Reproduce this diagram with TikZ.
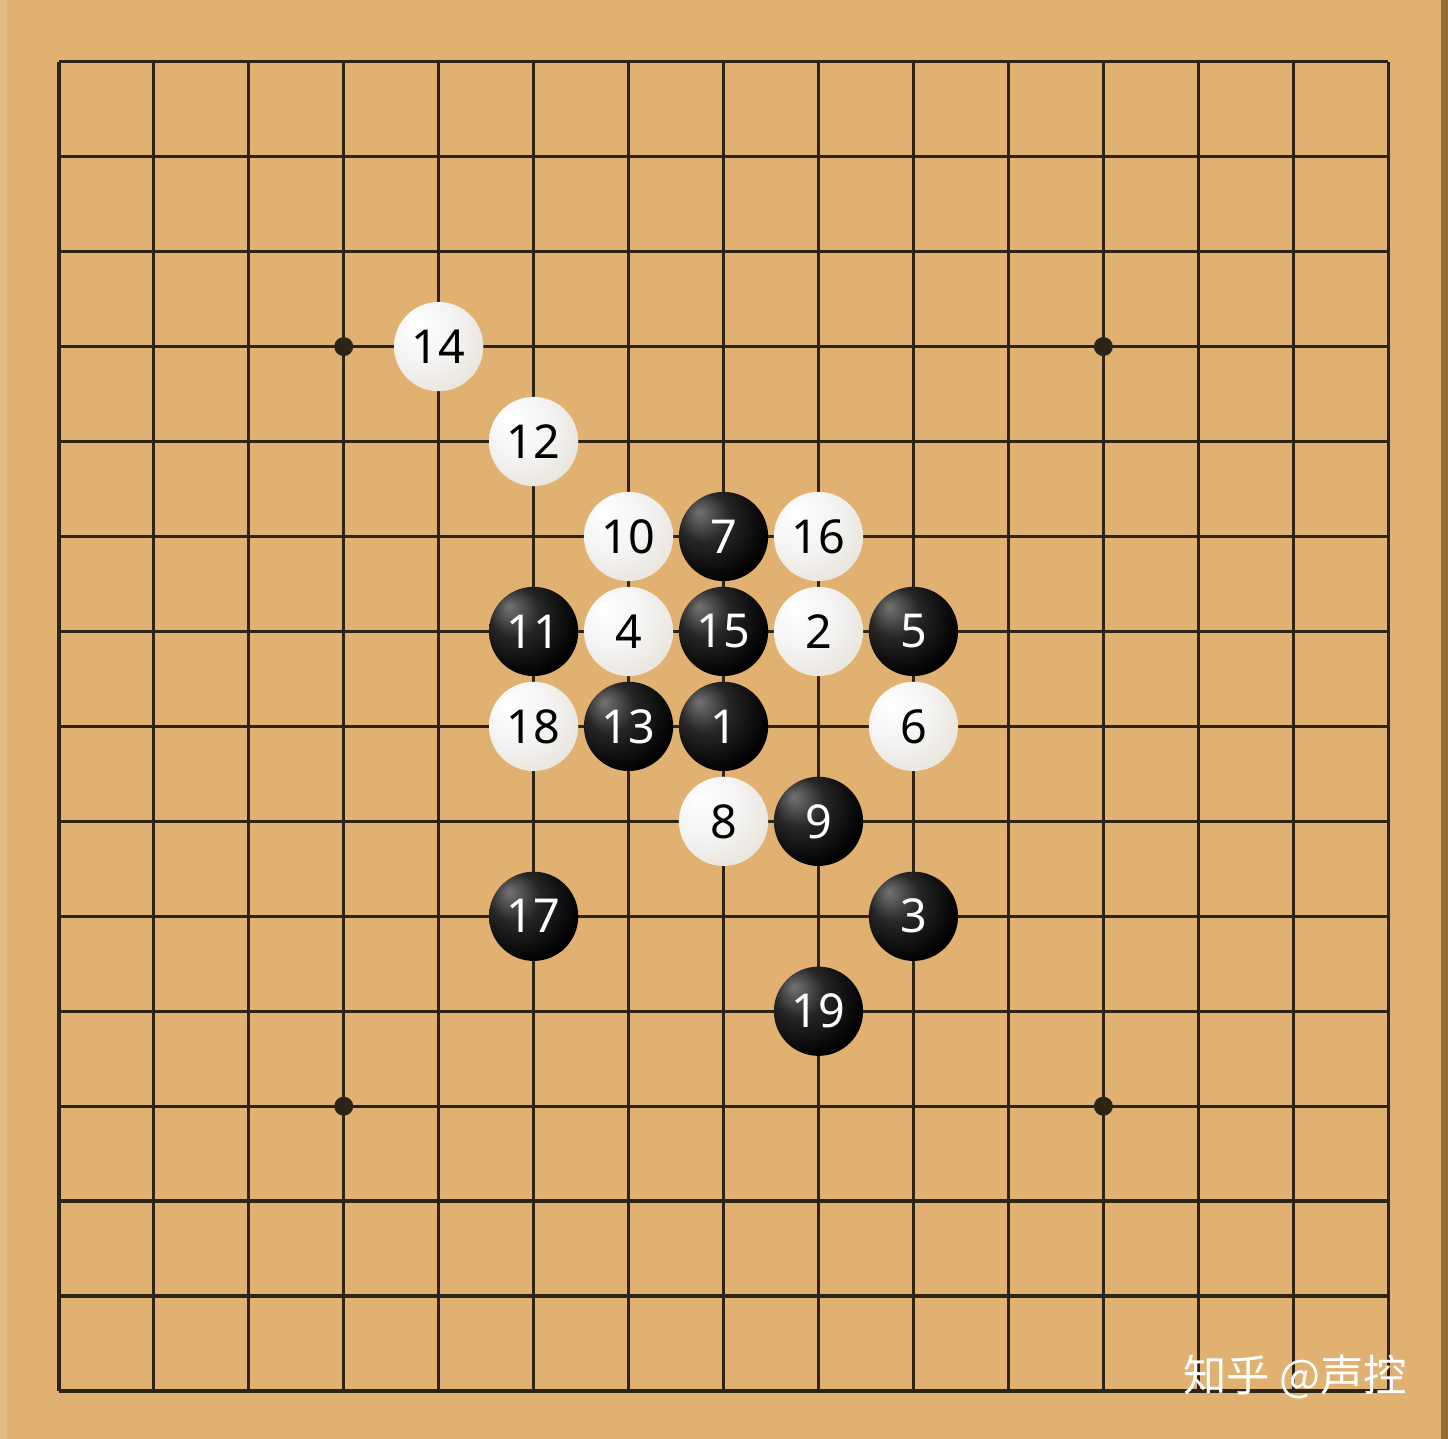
\documentclass[tikz,border=0pt]{standalone}
\usepackage{fontspec}
\setmainfont{Noto Sans}
\newfontfamily\cjk{Noto Sans CJK SC}

\definecolor{board}{RGB}{224,177,112}
\definecolor{boardedge}{RGB}{150,110,60}
\definecolor{gridline}{RGB}{45,36,24}
\definecolor{stonemid}{RGB}{228,222,210}
\definecolor{stonerim}{RGB}{190,178,156}

\pgfdeclareradialshading{blackstone}{\pgfpoint{-14bp}{14bp}}{color(0bp)=(black!55); color(14bp)=(black!85); color(32bp)=(black); color(60bp)=(black)}
\pgfdeclareradialshading{whitestone}{\pgfpoint{-14bp}{14bp}}{color(0bp)=(white); color(18bp)=(white!96!black); color(42bp)=(stonemid); color(64bp)=(stonerim)}

\begin{document}
\begin{tikzpicture}[x=1cm,y=-1cm]
		\tikzstyle{blackstone}=[circle,inner sep=0pt,minimum size=0.94cm,shading=blackstone,text=white,font=\fontsize{14}{14}\selectfont]
		\tikzstyle{whitestone}=[circle,inner sep=0pt,minimum size=0.94cm,shading=whitestone,text=black,font=\fontsize{14}{14}\selectfont]
		\tikzstyle{star}=[circle,inner sep=0pt,minimum size=0.2cm,fill=gridline]

		% board
		\fill[board] (-0.62,-0.65) rectangle (14.63,14.5);
		\fill[white,opacity=0.15] (-0.62,-0.65) rectangle (-0.55,14.5);
		\fill[boardedge] (14.56,-0.65) rectangle (14.63,14.5);
		\useasboundingbox (-0.62,-0.65) rectangle (14.63,14.5);
		\draw[gridline,line width=1pt] (0,0) grid (14,14);

		\node[star](s1) at (3,3){};
		\node[star](s2) at (11,3){};
		\node[star](s3) at (3,11){};
		\node[star](s4) at (11,11){};

		\node[blackstone](b1) at (7,7){1};
		\node[whitestone](w2) at (8,6){2};
		\node[blackstone](b3) at (9,9){3};
		\node[whitestone](w4) at (6,6){4};
		\node[blackstone](b5) at (9,6){5};
		\node[whitestone](w6) at (9,7){6};
		\node[blackstone](b7) at (7,5){7};
		\node[whitestone](w8) at (7,8){8};
		\node[blackstone](b9) at (8,8){9};
		\node[whitestone](w10) at (6,5){10};
		\node[blackstone](b11) at (5,6){11};
		\node[whitestone](w12) at (5,4){12};
		\node[blackstone](b13) at (6,7){13};
		\node[whitestone](w14) at (4,3){14};
		\node[blackstone](b15) at (7,6){15};
		\node[whitestone](w16) at (8,5){16};
		\node[blackstone](b17) at (5,9){17};
		\node[whitestone](w18) at (5,7){18};
		\node[blackstone](b19) at (8,10){19};

		% watermark
		\node[text=white,font=\cjk\fontsize{13}{13}\selectfont](mark) at (13.02,13.85){知乎 @声控};
\end{tikzpicture}
\end{document}
